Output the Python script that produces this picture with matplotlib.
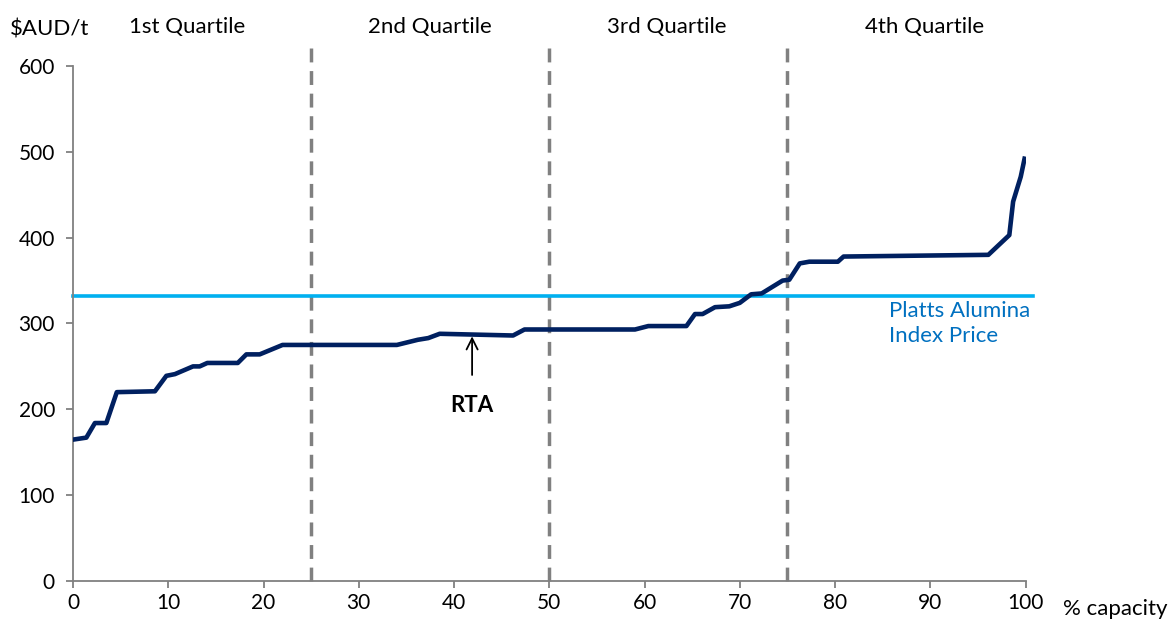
import matplotlib.pyplot as plt

plt.rcParams['font.family'] = ['Lato', 'DejaVu Sans']

# cost curve
capacity = [0.2, 1.4, 2.3, 3.5, 4.6, 8.6, 9.8, 10.7, 12.6, 13.3, 14.1, 17.3, 18.2, 19.6, 22.0,
            34.0, 36.2, 37.3, 38.5, 46.2, 47.4, 59.0, 60.4, 64.4, 65.3, 66.1, 67.4, 68.9,
            70.0, 71.2, 72.3, 74.5, 75.2, 76.3, 77.3, 80.3, 80.9, 96.1, 98.3, 98.7, 99.5, 99.9]
cost = [165, 167, 184, 184, 220, 221, 239, 241, 250, 250, 254, 254, 264, 264, 275,
        275, 281, 283, 288, 286, 293, 293, 297, 297, 311, 311, 319, 320,
        324, 334, 335, 350, 351, 370, 372, 372, 378, 380, 403, 442, 471, 492]

platts_price = 332
quartile_bounds = [25, 50, 75]
quartile_labels = ['1st Quartile', '2nd Quartile', '3rd Quartile', '4th Quartile']
quartile_pos = [12, 37.5, 62.3, 89.4]
rta_x = 41.9

fig = plt.figure(figsize=(11.68, 6.2), dpi=100)
ax = fig.add_axes([0.0625, 0.063, 0.8155, 0.8305])

ax.plot([0, 100.8], [platts_price, platts_price], color='#00B0F0', lw=2.6, clip_on=False, zorder=2)
ax.plot(capacity, cost, color='#002060', lw=3.3, solid_joinstyle='round', zorder=3)

for q in quartile_bounds:
    ax.plot([q, q], [0, 630], color='#808080', lw=2.5, dashes=(4, 2.5), clip_on=False, zorder=1)

for label, pos in zip(quartile_labels, quartile_pos):
    ax.text(pos, 645, label, ha='center', va='center', fontsize=16)

ax.text(85.7, 300, 'Platts Alumina\nIndex Price', color='#0070C0', fontsize=16,
        ha='left', va='center', linespacing=1.3)

ax.annotate('', xy=(rta_x, 285), xytext=(rta_x, 240),
            arrowprops=dict(arrowstyle='->', color='black', lw=1.3, mutation_scale=20, shrinkA=0, shrinkB=0))
ax.text(rta_x, 204, 'RTA', ha='center', va='center', fontsize=16, fontweight='bold')

ax.set_xlim(0, 100)
ax.set_ylim(0, 600)
ax.set_xticks(range(0, 101, 10))
ax.set_yticks(range(0, 601, 100))
ax.tick_params(axis='both', labelsize=15, color='#808080', length=5, width=1.3, direction='out')
ax.tick_params(axis='y', pad=8)
for side in ['top', 'right']:
    ax.spines[side].set_visible(False)
for side in ['left', 'bottom']:
    ax.spines[side].set_color('#808080')
    ax.spines[side].set_linewidth(1.3)

fig.text(10 / 1168, 1 - 30 / 620, '$AUD/t', fontsize=16, ha='left', va='center')
fig.text(1063 / 1168, 1 - 609 / 620, '% capacity', fontsize=16, ha='left', va='center')

fig.savefig('out.png', dpi=100)
